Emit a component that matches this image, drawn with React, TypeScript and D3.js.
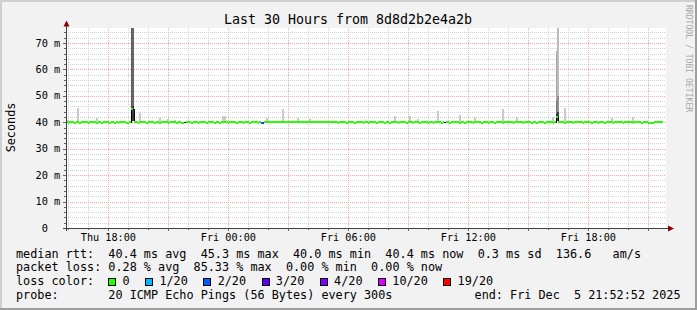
import React from 'react';
import * as d3 from 'd3';

const W = 697;
const H = 310;

const startTime = new Date(2025, 11, 4, 15, 52, 52);
const endTime = new Date(2025, 11, 5, 21, 52, 52);
const stepSeconds = 300;

const titleText = 'Last 30 Hours from 8d8d2b2e4a2b';
const yAxisTitle = 'Seconds';
const watermark = 'RRDTOOL / TOBI OETIKER';

// median rtt (ms) per 5-minute step
const medianMs = [
  40.4, 40.3, 40.4, 40.5, 40.4, 40.3, 40.4, 40.4, 40.3, 40.4,
  40.5, 40.4, 40.4, 40.3, 40.4, 40.4, 40.5, 40.4, 40.3, 40.4,
  40.4, 40.3, 40.4, 40.5, 40.4, 40.4, 40.3, 40.4, 40.4, 40.2,
  40.4, 40.3, 40.4, 40.4, 40.5, 40.4, 40.3, 40.2, 40.4, 45.3,
  45.3, 40.4, 40.4, 40.3, 40.4, 40.5, 40.4, 40.4, 40.3, 40.4,
  40.4, 40.5, 40.4, 40.3, 40.4, 40.4, 40.3, 40.4, 40.5, 40.4,
  40.4, 40.3, 40.4, 40.4, 40.5, 40.4, 40.3, 40.4, 40.4, 40.3,
  40.2, 40.4, 40.4, 40.5, 40.4, 40.3, 40.4, 40.4, 40.4, 40.3,
  40.4, 40.5, 40.4, 40.4, 40.3, 40.4, 40.4, 40.5, 40.4, 40.3,
  40.4, 40.4, 40.3, 40.4, 40.5, 40.4, 40.4, 40.3, 40.4, 40.4,
  40.5, 40.4, 40.3, 40.4, 40.4, 40.4, 40.3, 40.5, 40.4, 40.4,
  40.3, 40.4, 40.4, 40.5, 40.4, 40.3, 40.4, 40.2, 40.3, 40.5,
  40.5, 40.5, 40.4, 40.6, 40.5, 40.4, 40.5, 40.5, 40.4, 40.5,
  40.6, 40.5, 40.4, 40.5, 40.5, 40.4, 40.5, 40.6, 40.5, 40.4,
  40.5, 40.4, 40.5, 40.5, 40.6, 40.4, 40.5, 40.4, 40.5, 40.5,
  40.4, 40.5, 40.4, 40.4, 40.5, 40.6, 40.5, 40.4, 40.5, 40.4,
  40.4, 40.5, 40.4, 40.3, 40.4, 40.5, 40.4, 40.4, 40.3, 40.4,
  40.5, 40.4, 40.4, 40.3, 40.4, 40.4, 40.5, 40.4, 40.3, 40.4,
  40.4, 40.3, 40.4, 40.4, 40.5, 40.4, 40.3, 40.4, 40.4, 40.5,
  40.4, 40.3, 40.4, 40.4, 40.3, 40.4, 40.5, 40.4, 40.4, 40.3,
  40.4, 40.4, 40.5, 40.4, 40.3, 40.4, 40.4, 40.4, 40.3, 40.5,
  40.4, 40.4, 40.3, 40.4, 40.4, 40.5, 40.4, 40.3, 40.4, 40.4,
  40.3, 40.4, 40.5, 40.4, 40.4, 40.3, 40.4, 40.4, 40.5, 40.4,
  40.3, 40.4, 40.4, 40.4, 40.5, 40.4, 40.3, 40.4, 40.4, 40.3,
  40.4, 40.4, 40.5, 40.4, 40.3, 40.4, 40.4, 40.5, 40.4, 40.3,
  40.4, 40.4, 40.4, 40.3, 40.5, 40.4, 40.4, 40.3, 40.4, 40.4,
  40.5, 40.4, 40.3, 40.4, 40.4, 40.4, 40.5, 40.4, 40.3, 40.4,
  40.4, 40.5, 40.4, 40.4, 40.3, 40.4, 40.4, 40.5, 40.4, 40.3,
  40.4, 40.4, 40.3, 40.4, 40.5, 40.4, 40.4, 40.3, 40.4, 40.4,
  40.5, 40.4, 40.3, 40.4, 42.4, 40.4, 40.4, 40.5, 40.4, 40.3,
  40.4, 40.4, 40.5, 40.4, 40.3, 40.4, 40.4, 40.4, 40.5, 40.4,
  40.3, 40.4, 40.4, 40.5, 40.4, 40.3, 40.4, 40.4, 40.4, 40.3,
  40.5, 40.4, 40.4, 40.3, 40.4, 40.4, 40.5, 40.4, 40.3, 40.4,
  40.4, 40.4, 40.5, 40.4, 40.3, 40.4, 40.4, 40.5, 40.4, 40.4,
  40.3, 40.4, 40.4, 40.5, 40.4, 40.3, 40.4, 40.4, 40.4, 40.1,
  40.0, 40.0, 40.2, 40.4, 40.4, 40.5, 40.4, 40.4,
];

// steps whose loss falls outside the coloured bins (only the black line shows)
const noColorSlots = [40, 71, 227];
// steps with packet loss (count out of 20)
const lossSlots = [117, 118];
const lossCounts = [2, 3];

// light smoke above the median (upper ping value, ms)
const smokeSlots = [1, 7, 18, 44, 56, 61, 65, 94, 95, 120, 130, 139, 146, 197, 206, 211, 223, 236, 245, 262, 270, 292, 299, 327, 340];
const smokeTops = [41.0, 45.5, 41.8, 43.5, 41.5, 41.2, 41.0, 42.4, 42.4, 41.5, 45.2, 41.5, 41.3, 42.4, 42.4, 41.3, 44.3, 42.8, 42.2, 45.0, 42.2, 42.2, 45.5, 41.6, 42.2];

// dense smoke at the two spikes
const spikeSlots = [39, 39, 40, 40, 294, 294, 294, 295, 295, 295];
const spikeLo = [45.3, 40.4, 46.0, 40.4, 48.0, 43.0, 40.4, 50.0, 44.0, 40.4];
const spikeHi = [75.7, 45.3, 75.7, 46.0, 67.0, 48.0, 43.0, 75.7, 50.0, 44.0];
const spikeDensity = [0.68, 0.9, 0.62, 0.85, 0.3, 0.55, 0.92, 0.2, 0.42, 0.85];

const lossThresholds = [0, 1, 2, 3, 4, 10, 19];
const lossLabels = ['0', '1/20', '2/20', '3/20', '4/20', '10/20', '19/20'];
const lossColors = ['#26ff00', '#00b8ff', '#0059ff', '#5e00ff', '#7e00ff', '#dd00ff', '#ff0000'];

const yTicks = [0, 10, 20, 30, 40, 50, 60, 70];
const yTickLabels = [' 0', '10 m', '20 m', '30 m', '40 m', '50 m', '60 m', '70 m'];

const legendRtt = 'median rtt:  40.4 ms avg  45.3 ms max  40.0 ms min  40.4 ms now  0.3 ms sd  136.6   am/s';
const legendLoss = 'packet loss: 0.28 % avg  85.33 % max  0.00 % min  0.00 % now';
const legendLossColor = 'loss color:';
const legendProbe = 'probe:       20 ICMP Echo Pings (56 Bytes) every 300s';
const legendEnd = 'end: Fri Dec  5 21:52:52 2025';

const MONO = '"DejaVu Sans Mono", monospace';
const nb = (s: string) => s.replace(/ /g, '\u00a0');

export default function App() {
  const x = d3.scaleTime().domain([startTime, endTime]).range([66, 666]);
  const yMax = d3.max(spikeHi) as number;
  const y = d3.scaleLinear().domain([0, yMax]).range([228, 28]);
  const slotTime = (i: number) => new Date(startTime.getTime() + i * stepSeconds * 1000);
  const sx = (i: number) => x(slotTime(i));
  const py = (v: number) => Math.round(y(v));

  const plotL = 66, plotR = 666, plotT = y(yMax), plotB = 228;

  const hours = d3.timeHour.range(startTime, endTime);
  const fmt = d3.timeFormat('%a %H:%M');
  const yGrid = d3.range(2, yMax, 2);

  const shade = d3.scaleLinear<string>().domain([0, 1]).range(['#e2e2e2', '#1e1e1e']);

  const lossMap = new Map<number, number>();
  lossSlots.forEach((s, k) => lossMap.set(s, lossCounts[k]));
  const binOf = (c: number) => {
    let b = 0;
    lossThresholds.forEach((t, k) => { if (c >= t) b = k; });
    return b;
  };

  const segPaths: string[] = lossColors.map(() => '');
  medianMs.forEach((m, i) => {
    if (noColorSlots.includes(i)) return;
    const b = binOf(lossMap.get(i) ?? 0);
    segPaths[b] += `M${Math.round(sx(i))},${py(m) + 1}H${Math.round(sx(i + 1))}`;
  });

  // black median outline: visible at jumps and where no loss colour applies
  let blackPath = '';
  medianMs.forEach((m, i) => {
    if (noColorSlots.includes(i)) {
      blackPath += `M${Math.round(sx(i))},${py(m) + 1.5}H${Math.round(sx(i + 1))}`;
    }
    if (i < medianMs.length - 1) {
      const a = py(m), b = py(medianMs[i + 1]);
      if (Math.abs(a - b) >= 2) {
        const xx = Math.round(sx(i + 1)) + 0.5;
        blackPath += `M${xx},${Math.min(a, b) + 1}V${Math.max(a, b) + 2}`;
      }
    }
  });

  const cw = 7.1;
  const lx = 16;
  const baselines = [257.5, 271.3, 285.3, 299.1];

  const boxes: { bx: number; tx: number; label: string; color: string }[] = [];
  let c = 13;
  lossLabels.forEach((lab, k) => {
    boxes.push({ bx: lx + c * cw, tx: lx + (c + 2) * cw, label: lab, color: lossColors[k] });
    c = c + 2 + lab.length + 2.2;
  });

  const barX = (i: number) => Math.floor(sx(i));
  const barW = (i: number) => Math.max(2, Math.round(sx(i + 1) - sx(i)));

  return (
    <svg width={W} height={H} style={{ position: 'absolute', left: 0, top: 0, display: 'block' }}
      xmlns="http://www.w3.org/2000/svg">
      <rect x={0} y={0} width={W} height={H} fill="#f2f2f2" />
      <rect x={0} y={0} width={W} height={2} fill="#cfcfcf" />
      <rect x={0} y={0} width={2} height={H} fill="#cfcfcf" />
      <rect x={0} y={H - 2} width={W} height={2} fill="#9e9e9e" />
      <rect x={W - 2} y={0} width={2} height={H} fill="#9e9e9e" />

      <rect x={plotL} y={plotT} width={plotR - plotL} height={plotB - plotT} fill="#ffffff" />

      {/* grid */}
      <g shapeRendering="crispEdges" strokeWidth={1} strokeDasharray="1,1">
        {yGrid.filter((v) => v % 10 !== 0).map((v) => (
          <line key={'hy' + v} x1={plotL} x2={plotR} y1={py(v) + 0.5} y2={py(v) + 0.5} stroke="#d2d2d2" />
        ))}
        {hours.filter((h) => h.getHours() % 3 !== 0).map((h) => (
          <line key={'vx' + h.getTime()} x1={Math.round(x(h)) + 0.5} x2={Math.round(x(h)) + 0.5} y1={plotT} y2={plotB} stroke="#d2d2d2" />
        ))}
        {yGrid.filter((v) => v % 10 === 0).map((v) => (
          <line key={'My' + v} x1={plotL} x2={plotR} y1={py(v) + 0.5} y2={py(v) + 0.5} stroke="#f5a8a8" />
        ))}
        {hours.filter((h) => h.getHours() % 3 === 0).map((h) => (
          <line key={'Mx' + h.getTime()} x1={Math.round(x(h)) + 0.5} x2={Math.round(x(h)) + 0.5} y1={plotT} y2={plotB} stroke="#f5a8a8" />
        ))}
      </g>

      {/* smoke */}
      <g shapeRendering="crispEdges">
        {smokeSlots.map((s, k) => (
          <rect key={'s' + k} x={barX(s)} width={barW(s)} y={py(smokeTops[k])}
            height={py(medianMs[s]) - py(smokeTops[k])} fill={shade(0.13)} />
        ))}
        {spikeSlots.map((s, k) => (
          <rect key={'p' + k} x={barX(s)} width={barW(s)} y={py(spikeHi[k])}
            height={py(spikeLo[k]) - py(spikeHi[k])} fill={shade(spikeDensity[k])} />
        ))}
      </g>

      {/* median */}
      <path d={blackPath} fill="none" stroke="#000" strokeWidth={1} shapeRendering="crispEdges" />
      {segPaths.map((d, k) => d ? (
        <path key={'m' + k} d={d} fill="none" stroke={lossColors[k]} strokeWidth={2} shapeRendering="crispEdges" />
      ) : null)}

      {/* axes */}
      <g shapeRendering="crispEdges">
        {yGrid.map((v) => (
          <line key={'ty' + v} x1={v % 10 === 0 ? 63 : 64} x2={66} y1={py(v) + 0.5} y2={py(v) + 0.5} stroke="#666" />
        ))}
        {hours.map((h) => (
          <line key={'tx' + h.getTime()} x1={Math.round(x(h)) + 0.5} x2={Math.round(x(h)) + 0.5} y1={228} y2={h.getHours() % 3 === 0 ? 231 : 230} stroke="#666" />
        ))}
        <line x1={66.5} x2={66.5} y1={24} y2={231} stroke="#404040" />
        <line x1={63} x2={670} y1={228.5} y2={228.5} stroke="#404040" />
      </g>
      <path d="M63.5,26.5 L66.5,20.5 L69.5,26.5 Z" fill="#8b0000" />
      <path d="M668,225.5 L674,228.5 L668,231.5 Z" fill="#8b0000" />

      {/* y tick labels */}
      {yTicks.map((v, k) => (
        <text key={'yl' + v} x={35.5} y={y(v) + 3.6} fontFamily={MONO} fontSize={10.3} fill="#000">{nb(yTickLabels[k])}</text>
      ))}
      {/* x tick labels */}
      {hours.filter((h) => h.getHours() % 6 === 0).map((h) => (
        <text key={'xl' + h.getTime()} x={x(h)} y={241} textAnchor="middle" fontFamily={MONO} fontSize={10.2} fill="#000">{fmt(h)}</text>
      ))}

      <text x={348} y={24} textAnchor="middle" fontFamily={MONO} fontSize={13.3} fill="#000">{titleText}</text>
      <text transform="translate(14.5,127.5) rotate(-90)" textAnchor="middle" fontFamily={MONO} fontSize={11.8} fill="#000">{yAxisTitle}</text>
      <text transform="translate(685.5,5) rotate(90)" fontFamily={MONO} fontSize={8.1} fill="#a8a8a8">{watermark}</text>

      {/* legend */}
      <g fontFamily={MONO} fontSize={11.8} fill="#000">
        <text x={lx} y={baselines[0]}>{nb(legendRtt)}</text>
        <text x={lx} y={baselines[1]}>{nb(legendLoss)}</text>
        <text x={lx} y={baselines[2]}>{nb(legendLossColor)}</text>
        {boxes.map((b, k) => (
          <g key={'b' + k}>
            <rect x={Math.round(b.bx) + 0.5} y={278.5} width={7} height={7} fill={b.color} stroke="#000" strokeWidth={1} shapeRendering="crispEdges" />
            <text x={b.tx} y={baselines[2]}>{b.label}</text>
          </g>
        ))}
        <text x={lx} y={baselines[3]}>{nb(legendProbe)}</text>
        <text x={680.5} y={baselines[3]} textAnchor="end">{nb(legendEnd)}</text>
      </g>
    </svg>
  );
}
